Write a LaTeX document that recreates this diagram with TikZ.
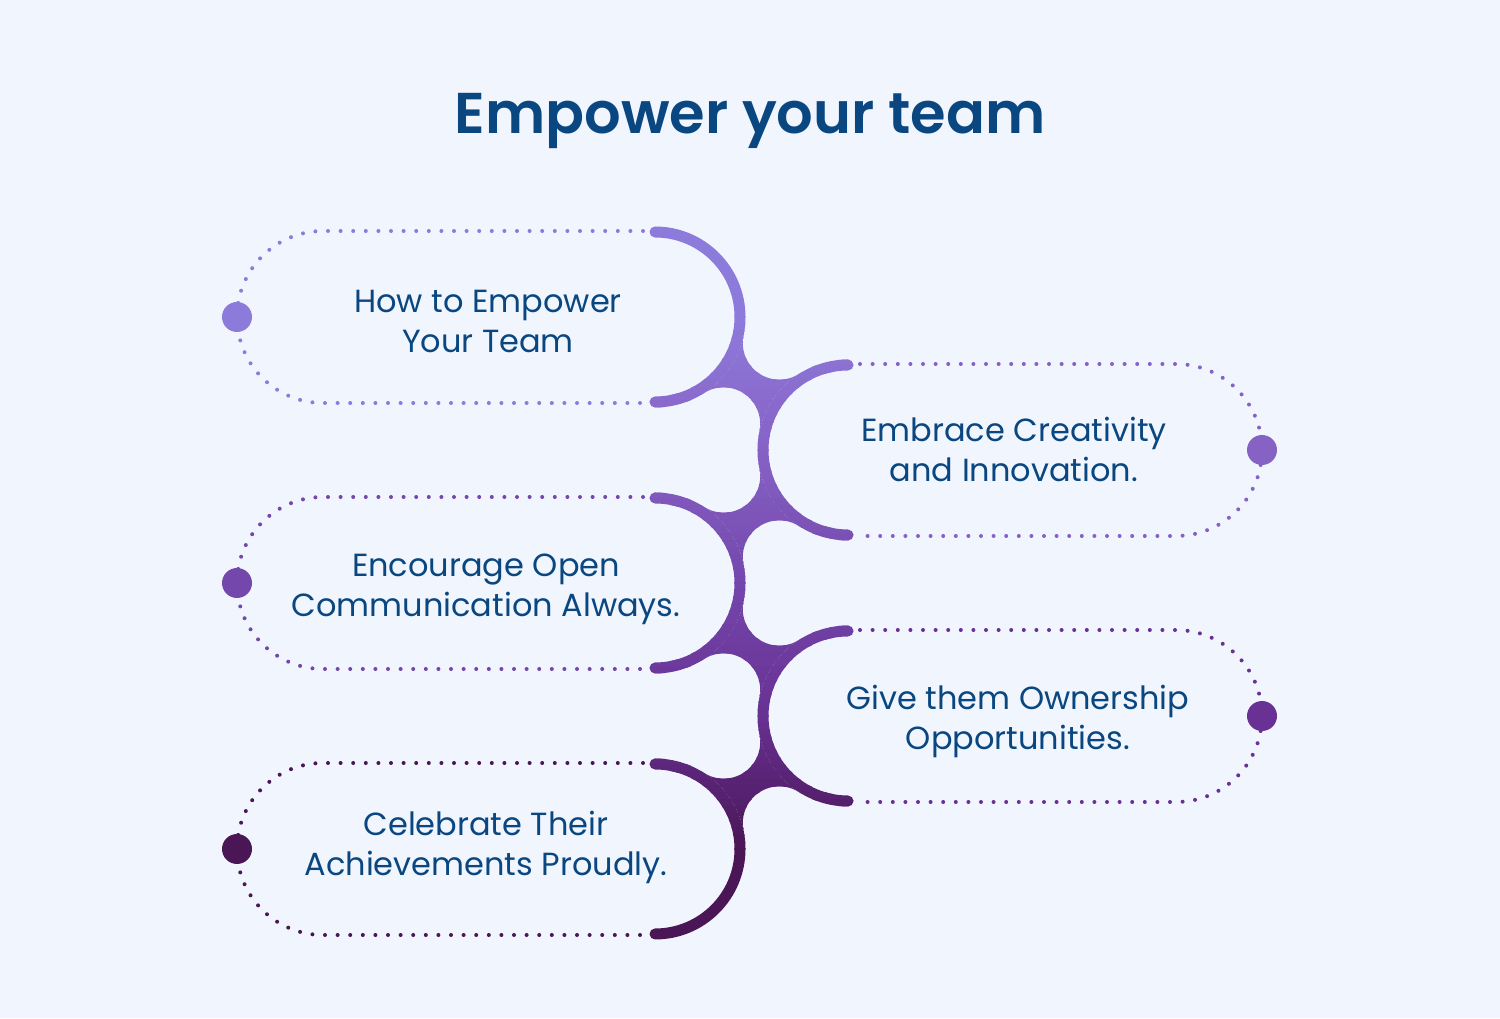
\documentclass[tikz,border=0pt]{standalone}
\usepackage{fontspec}
\setmainfont{Poppins}[BoldFont={Poppins SemiBold}]
\definecolor{bgc}{HTML}{F1F6FE}
\definecolor{txtc}{HTML}{0A4780}
\definecolor{c1}{HTML}{8D7BDB}
\definecolor{c2}{HTML}{8762C5}
\definecolor{c3}{HTML}{7447AC}
\definecolor{c4}{HTML}{683193}
\definecolor{c5}{HTML}{4A1656}
\tikzset{
  spine/.style={line width=11pt, line cap=round},
  dotbox/.style={line width=4pt, dash pattern=on 0pt off 12.6pt, line cap=round},
  bigdot/.style={circle, minimum size=30pt, inner sep=0pt},
  label/.style={text=txtc, align=center, font=\fontsize{32}{40}\selectfont},
}
\newcommand\junctionpath{%
  \fill (655,701) ++(-11.86:90.5) arc[start angle=168.14,end angle=302.71,radius=36.54]
    arc[start angle=122.71,end angle=168.14,radius=90.5]
    arc[start angle=-11.86,end angle=122.71,radius=36.54]
    arc[start angle=-57.29,end angle=-11.86,radius=90.5] -- cycle;}
\newcommand\spineshape{%
  \draw[spine] (655,786) arc[start angle=90,end angle=-90,radius=85];
  \draw[spine] (848,653) arc[start angle=90,end angle=270,radius=85];
  \draw[spine] (655,520) arc[start angle=90,end angle=-90,radius=85];
  \draw[spine] (848,387) arc[start angle=90,end angle=270,radius=85];
  \draw[spine] (655,254) arc[start angle=90,end angle=-90,radius=85];
  \junctionpath
  \begin{scope}[yshift=-266pt]\junctionpath\end{scope}
  \begin{scope}[xshift=1503pt,yshift=-133pt,xscale=-1]\junctionpath\end{scope}
  \begin{scope}[xshift=1503pt,yshift=-399pt,xscale=-1]\junctionpath\end{scope}
}
\begin{document}
\begin{tikzpicture}[x=1pt,y=1pt]
\fill[bgc] (0,0) rectangle (1500,1018);
\useasboundingbox (0,0) rectangle (1500,1018);
% title
\node[text=txtc, font=\fontsize{57.5}{60}\selectfont\bfseries] (title) at (750,897) {Empower your team};
% spine with vertical gradient (bands)
\begin{scope}[color=c1]
  \clip (600,701) rectangle (900,800);
  \spineshape
\end{scope}
\foreach \ya/\ca/\cb in {701/c1/c2, 568/c2/c3, 435/c3/c4, 302/c4/c5} {
  \foreach \i in {0,...,18} {
    \pgfmathsetmacro\ytop{\ya-7*\i+0.4}
    \pgfmathsetmacro\ybot{\ya-7*\i-7.4}
    \pgfmathtruncatemacro\p{100-(\i+0.5)*100/19}
    \colorlet{bandc}{\ca!\p!\cb}
    \begin{scope}[color=bandc]
      \clip (600,\ybot) rectangle (900,\ytop);
      \spineshape
    \end{scope}
  }
}
\begin{scope}[color=c5]
  \clip (600,60) rectangle (900,169);
  \spineshape
\end{scope}
% dotted boxes
\draw[dotbox, c1] (643,787) coordinate (b1s) -- (323,787) arc[start angle=90,end angle=270,radius=86] -- (643,615) coordinate (b1e);
\draw[dotbox, c2] (860,654) coordinate (b2s) -- (1176,654) arc[start angle=90,end angle=-90,radius=86] -- (860,482) coordinate (b2e);
\draw[dotbox, c3] (643,521) coordinate (b3s) -- (323,521) arc[start angle=90,end angle=270,radius=86] -- (643,349) coordinate (b3e);
\draw[dotbox, c4] (860,388) coordinate (b4s) -- (1176,388) arc[start angle=90,end angle=-90,radius=86] -- (860,216) coordinate (b4e);
\draw[dotbox, c5] (643,255) coordinate (b5s) -- (323,255) arc[start angle=90,end angle=270,radius=86] -- (643,83) coordinate (b5e);
% dots
\node[bigdot, fill=c1] (d1) at (237,701) {};
\node[bigdot, fill=c2] (d2) at (1262,568) {};
\node[bigdot, fill=c3] (d3) at (237,435) {};
\node[bigdot, fill=c4] (d4) at (1262,302) {};
\node[bigdot, fill=c5] (d5) at (237,169) {};
% labels
\node[label] (t1) at (488,697) {How to Empower\\Your Team};
\node[label] (t2) at (1014,569) {Embrace Creativity\\and Innovation.};
\node[label] (t3) at (486,429) {Encourage Open\\Communication Always.};
\node[label] (t4) at (1018,297) {Give them Ownership\\Opportunities.};
\node[label] (t5) at (486,171) {Celebrate Their\\Achievements Proudly.};
\end{tikzpicture}
\end{document}
